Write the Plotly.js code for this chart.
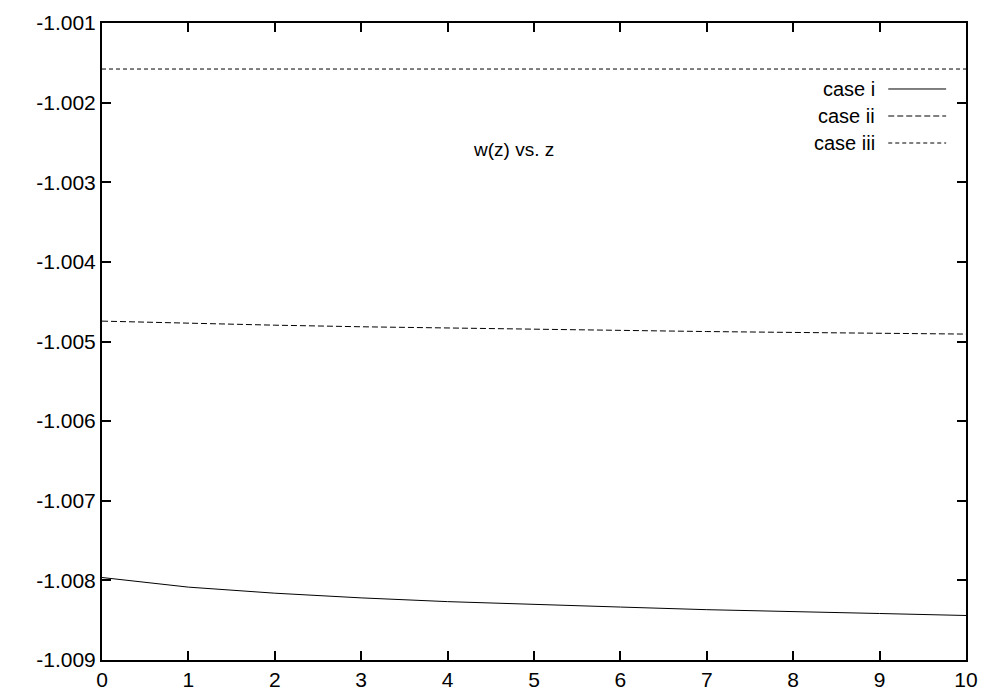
<!DOCTYPE html>
<html>
<head>
<meta charset="utf-8">
<script src="https://cdn.plot.ly/plotly-3.0.1.min.js"></script>
<style>
  html, body { margin: 0; padding: 0; background: #fff; }
  #grafico { width: 1000px; height: 700px; }
</style>
</head>
<body>
<div id="grafico"></div>
<script>
// values
const zVals = [0, 1, 2, 3, 4, 5, 6, 7, 8, 9, 10];
const caseI = [-1.007964, -1.008085, -1.008161, -1.008220, -1.008267, -1.008305,
               -1.008335, -1.008368, -1.008396, -1.008416, -1.008441];
const caseII = [-1.004744, -1.004772, -1.004795, -1.004815, -1.004832, -1.004848,
                -1.004862, -1.004875, -1.004886, -1.004897, -1.004907];
const caseIII = [-1.001578, -1.001578, -1.001578, -1.001578, -1.001578, -1.001578,
                 -1.001578, -1.001578, -1.001578, -1.001578, -1.001578];
const seriesNames = ["case i", "case ii", "case iii"];
const yTickVals = [-1.009, -1.008, -1.007, -1.006, -1.005, -1.004, -1.003, -1.002, -1.001];
const yTickText = ["-1.009", "-1.008", "-1.007", "-1.006", "-1.005", "-1.004", "-1.003", "-1.002", "-1.001"];

const dashes = ["solid", "6px,3px", "4px,3px"];
const allY = [caseI, caseII, caseIII];

const traces = allY.map(function (ys, i) {
    return {
        x: zVals,
        y: ys,
        name: seriesNames[i],
        mode: 'lines',
        type: 'scatter',
        line: { color: '#000', width: 1, dash: dashes[i] },
        showlegend: false
    };
});

const fam = 'Liberation Sans, Arial, sans-serif';
const txtFont = { family: fam, size: 20, color: '#000' };

// gnuplot style legend: label on the left, line sample on the right
const legendY = [0.8964, 0.854, 0.8116];
const annotations = [{
    text: "w(z) vs. z", xref: 'paper', yref: 'paper', x: 0.4763, y: 0.802,
    xanchor: 'center', yanchor: 'middle',
    showarrow: false, font: { family: fam, size: 19, color: '#000' }
}];
const shapes = [];
seriesNames.forEach(function (n, i) {
    annotations.push({
        text: n, xref: 'paper', yref: 'paper', x: 0.897, y: legendY[i],
        xanchor: 'right', yanchor: 'middle', showarrow: false,
        font: txtFont
    });
    shapes.push({
        type: 'line', xref: 'paper', yref: 'paper',
        x0: 0.91, x1: 0.977, y0: legendY[i], y1: legendY[i],
        line: { color: '#000', width: 1, dash: dashes[i] }
    });
});

const axisStyle = {
    showgrid: false, zeroline: false,
    showline: true, linecolor: '#000', linewidth: 2, mirror: 'ticks',
    ticks: 'inside', ticklen: 9, tickwidth: 2, tickcolor: '#000',
    tickfont: { family: fam, size: 21, color: '#000' }
};

const layout = {
    width: 1000,
    height: 700,
    margin: { l: 102, r: 34, t: 23, b: 40 },
    paper_bgcolor: '#fff',
    plot_bgcolor: '#fff',
    font: { family: fam, size: 20, color: '#000' },
    xaxis: Object.assign({ range: [0, 10], dtick: 1, tick0: 0 }, axisStyle),
    yaxis: Object.assign({ range: [-1.009, -1.001], tickvals: yTickVals, ticktext: yTickText }, axisStyle),
    annotations: annotations,
    shapes: shapes
};

Plotly.newPlot('grafico', traces, layout, { displayModeBar: false });
</script>
</body>
</html>
